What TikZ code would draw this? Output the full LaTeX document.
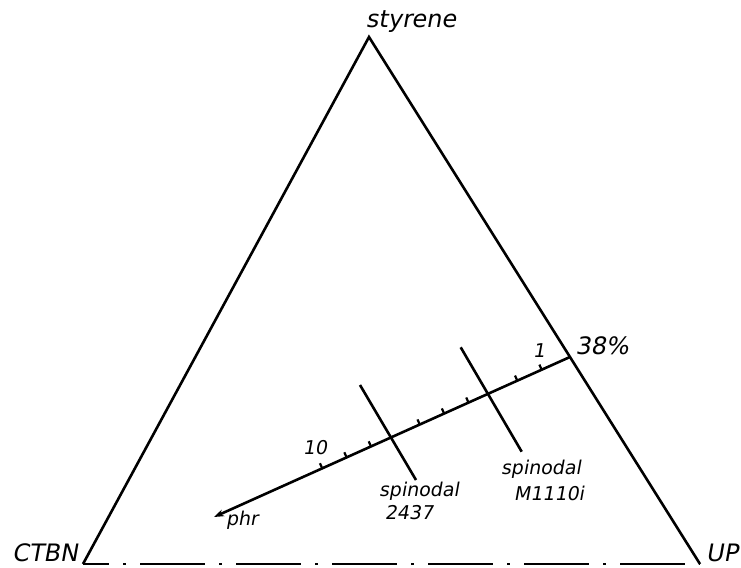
\documentclass[tikz,border=0pt]{standalone}
\usepackage{fontspec}
\setmainfont{DejaVu Sans}[FakeSlant=0.18]
\usetikzlibrary{calc,arrows.meta}
\begin{document}
\begin{tikzpicture}[x=0.5pt,y=-0.5pt,
  edge/.style={line width=1.3pt},
  big/.style={font=\fontsize{12}{14}\selectfont, inner sep=0pt},
  small/.style={font=\fontsize{9.5}{11}\selectfont, inner sep=0pt},
  tickmark/.style={line width=1.1pt}]
\useasboundingbox (0,0) rectangle (741,568);
% corners
\coordinate (S) at (369,37);
\coordinate (C) at (83,564);
\coordinate (U) at (700,564);
\draw[edge, line join=miter] (C) -- (S) -- (U);
\draw[edge, dash pattern=on 32.5pt off 7pt on 1.5pt off 7pt, dash phase=19.5pt] (C) -- (U);
% corner labels
\node[big] (lS) at (411,22) {styrene};
\node[big] (lC) at (45,553) {CTBN};
\node[big] (lU) at (722,553) {UP};
% dilution line
\coordinate (P) at ($(U)!0.3928!(S)$);
\coordinate (tip) at (214,517);
\draw[edge, -{Stealth[length=5pt,width=3.5pt]}] (P) -- (tip);
\node[big] (l38) at (602,346) {38\%};
% ticks
\foreach \k in {0,1,3,4,5,7,8,9} {
  \pgfmathsetmacro\t{0.0795+0.0685*\k}
  \coordinate (tk\k) at ($(P)!\t!(tip)$);
  \draw[tickmark] (tk\k) -- ($(tk\k)!2.8pt!-90:(tip)$);
}
\node[small] (l1) at (539,351) {1};
\node[small] (l10) at (315,448) {10};
\node[small] (lphr) at (242,520) {phr};
% spinodals
\coordinate (m1) at (460.7,347.3);
\coordinate (m2) at (521.7,451.7);
\coordinate (q1) at (360,385);
\coordinate (q2) at (416,480);
\draw[edge] (m1) -- (m2);
\draw[edge] (q1) -- (q2);
\node[small] (lm1) at (541,469) {spinodal};
\node[small] (lm2) at (549,493) {M1110i};
\node[small] (lq1) at (419,491) {spinodal};
\node[small] (lq2) at (409,513) {2437};
\end{tikzpicture}
\end{document}
